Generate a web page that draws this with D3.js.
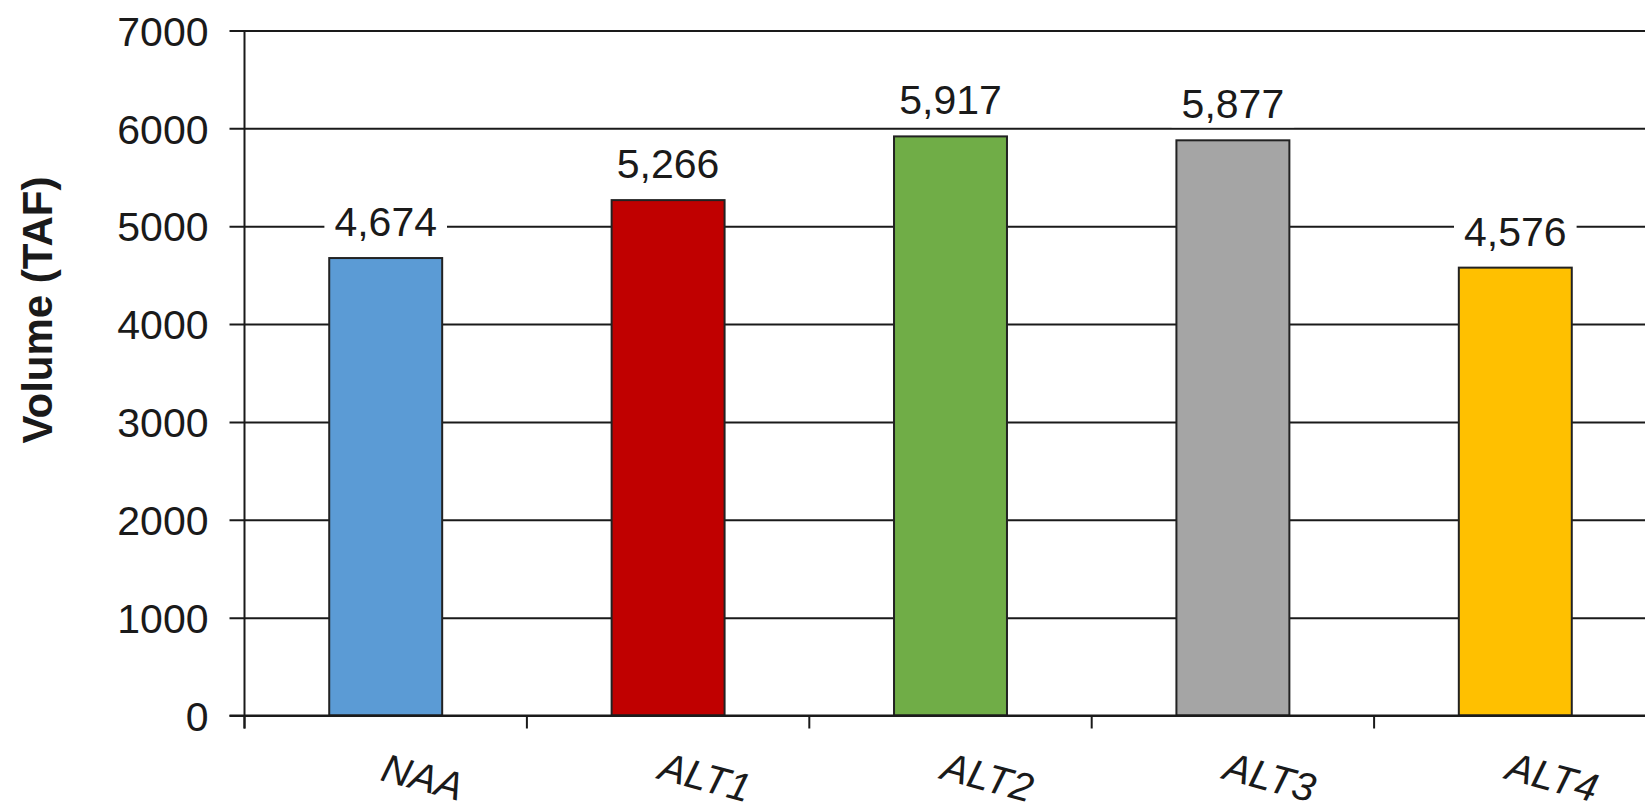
<!DOCTYPE html>
<html>
<head>
<meta charset="utf-8">
<script src="https://cdn.jsdelivr.net/npm/d3@7"></script>
<style>
  html, body { margin: 0; padding: 0; background: #fff; overflow: hidden; }
  svg { display: block; font-family: "Liberation Sans", Arial, sans-serif; }
</style>
</head>
<body>
<svg id="chart" width="1645" height="808"></svg>
<script>
const categories = ["NAA", "ALT1", "ALT2", "ALT3", "ALT4"];
const values = [4674, 5266, 5917, 5877, 4576];
const barColors = ["#5B9BD5", "#C00000", "#70AD47", "#A5A5A5", "#FFC000"];
const yTicks = [0, 1000, 2000, 3000, 4000, 5000, 6000, 7000];
const yTitle = "Volume (TAF)";

(function () {
const svg = d3.select("#chart");
const mLeft = 244.5, mRight = 1656.5, mTop = 30.4, mBottom = 715.5;

const x = d3.scaleBand().domain(categories).range([mLeft, mRight])
  .paddingInner(0.6).paddingOuter(0.3);
const y = d3.scaleLinear().domain([0, 7000]).range([mBottom, mTop]);
const step = x.step();

// gridlines + y axis ticks
const yAxis = d3.axisLeft(y).tickValues(yTicks).tickSize(-(mRight - mLeft) - 15).tickSizeOuter(0)
  .tickFormat(d3.format("d")).tickPadding(21);
const gy = svg.append("g").attr("transform", `translate(${mLeft - 15},0)`).call(yAxis);
gy.select(".domain").remove();
gy.selectAll(".tick line").attr("stroke", "#1a1a1a").attr("stroke-width", 2);
gy.selectAll(".tick text").attr("font-size", 41).attr("fill", "#1a1a1a")
  .attr("font-family", "Liberation Sans, Arial, sans-serif")
  .attr("x", -21).attr("dy", "0.36em");

// bars
svg.append("g").selectAll("rect").data(categories).join("rect")
  .attr("x", d => x(d))
  .attr("y", (d, i) => y(values[i]))
  .attr("width", x.bandwidth())
  .attr("height", (d, i) => y(0) - y(values[i]))
  .attr("fill", (d, i) => barColors[i])
  .attr("stroke", "#222").attr("stroke-width", 2);

// x axis baseline and boundary ticks
const bounds = categories.map(c => x(c) - (step - x.bandwidth()) / 2).concat([mRight]);
svg.append("line").attr("x1", mLeft - 15).attr("x2", 1645).attr("y1", y(0)).attr("y2", y(0))
  .attr("stroke", "#1a1a1a").attr("stroke-width", 2);
svg.append("g").selectAll("line").data(bounds).join("line")
  .attr("x1", d => d).attr("x2", d => d).attr("y1", y(0)).attr("y2", y(0) + 13)
  .attr("stroke", "#1a1a1a").attr("stroke-width", 2);
// y axis line
svg.append("line").attr("x1", mLeft).attr("x2", mLeft).attr("y1", mTop).attr("y2", y(0) + 13)
  .attr("stroke", "#1a1a1a").attr("stroke-width", 2);

// data labels with white background
const fmt = d3.format(",");
const lg = svg.append("g");
categories.forEach((c, i) => {
  const cx = x(c) + x.bandwidth() / 2;
  const cy = y(values[i]) - 22;
  const g = lg.append("g");
  const t = g.append("text").attr("x", cx).attr("y", cy).attr("text-anchor", "middle")
    .attr("font-size", 41).attr("fill", "#1a1a1a").text(fmt(values[i]));
  const bb = t.node().getBBox();
  g.insert("rect", "text").attr("x", bb.x - 10).attr("y", bb.y).attr("width", bb.width + 20)
    .attr("height", bb.height).attr("fill", "#fff");
});

// x labels rotated
svg.append("g").selectAll("text").data(categories).join("text")
  .attr("transform", d => `translate(${x(d) + x.bandwidth() / 2 + 37},${777}) rotate(15)`)
  .attr("text-anchor", "middle").attr("dy", "0.35em")
  .attr("font-size", 40).attr("font-style", "italic").attr("fill", "#1a1a1a")
  .text(d => d);

// y title
svg.append("text").attr("transform", "translate(37,310) rotate(-90)")
  .attr("text-anchor", "middle").attr("dy", "0.35em")
  .attr("font-size", 42).attr("font-weight", "bold").attr("fill", "#1a1a1a")
  .text(yTitle);
})();
</script>
</body>
</html>
